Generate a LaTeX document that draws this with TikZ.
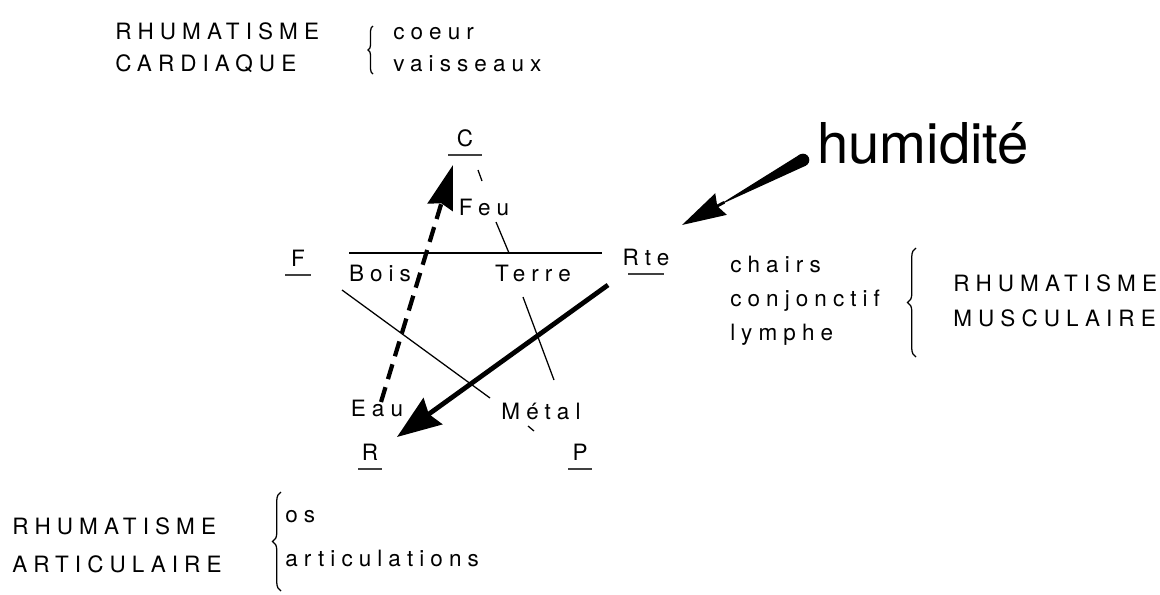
\documentclass[tikz,border=0pt]{standalone}
\usepackage{fontspec}
\setmainfont{TeX Gyre Heros}
\newfontfamily\spaced[LetterSpace=27]{TeX Gyre Heros}
\usetikzlibrary{arrows.meta, calc, decorations.pathreplacing}

\begin{document}
\begin{tikzpicture}[
    x=0.025cm, y=-0.025cm,
    every node/.style={font=\spaced\fontsize{16}{19}\selectfont, inner sep=0pt},
    txt/.style={anchor=base west},
    elem/.style={anchor=base},
    uline/.style={line width=1pt, black!75},
    pline/.style={line width=0.9pt},
    bigarrow/.style={line width=3.4pt, -{Stealth[length=1.1cm, width=0.8cm, inset=0.12cm]}},
    dasharrow/.style={line width=3pt, dash pattern=on 11pt off 6pt, -{Stealth[length=1.1cm, width=0.65cm, inset=0.1cm]}},
    curly/.style={decorate, decoration={brace, amplitude=#1}, line width=0.9pt}
]
    \useasboundingbox (0,0) rectangle (1160,594);

    % RHUMATISME CARDIAQUE
    \node[txt] (rc1) at (115,39) {RHUMATISME};
    \node[txt] (rc2) at (115,71) {CARDIAQUE};
    \node[txt] (coeur) at (393,39) {coeur};
    \node[txt] (vaiss) at (393,71) {vaisseaux};
    \draw[curly=3.5pt] (373,74) -- (373,26);

    % RHUMATISME MUSCULAIRE
    \node[txt] (chairs) at (730,272) {chairs};
    \node[txt] (conj) at (730,306) {conjonctif};
    \node[txt] (lymphe) at (730,340) {lymphe};
    \draw[curly=6pt] (916,357) -- (916,248);
    \node[txt] (rm1) at (953,291) {RHUMATISME};
    \node[txt] (rm2) at (953,326) {MUSCULAIRE};

    % RHUMATISME ARTICULAIRE
    \node[txt] (ra1) at (12,534) {RHUMATISME};
    \node[txt] (ra2) at (12,572) {ARTICULAIRE};
    \draw[curly=6pt] (281,591) -- (281,492);
    \node[txt] (os) at (285,522) {os};
    \node[txt] (artic) at (285,566) {articulations};

    % organes
    \node[elem] (C) at (465,146) {C};
    \node[elem] (F) at (298,266) {F};
    \node[elem] (Rte) at (646,265) {Rte};
    \node[elem] (R) at (370,460) {R};
    \node[elem] (P) at (580,460) {P};
    \foreach \n/\w in {C/17, F/13, Rte/18, R/12, P/12} {
        \draw[uline] ($(\n.base)+(-\w,9)$) -- ($(\n.base)+(\w,9)$);
    }

    % elements
    \node[elem] (bois) at (380,281) {Bois};
    \node[elem] (terre) at (533,281) {Terre};
    \node[elem] (feu) at (484,215) {Feu};
    \node[elem] (eau) at (377,416) {Eau};
    \node[elem] (metal) at (541,419) {Métal};

    % lines
    \coordinate (hl-w) at (349,253);
    \coordinate (hl-e) at (602,253);
    \draw[pline] (hl-w) -- (hl-e);
    \draw[pline] (478,170) -- (482,181);
    \draw[pline] (496,222) -- (509,253);
    \draw[pline] (342,290) -- (490,398);
    \draw[pline] (528,426) -- (534,431);
    \draw[pline] (523,297) -- (554,380);

    % arrows
    \coordinate (rtetail) at (608,285);
    \coordinate (rtip) at (397,437);
    \draw[bigarrow] (rtetail) -- (rtip);
    \coordinate (eautail) at (381,402);
    \coordinate (ctip) at (453,165);
    \draw[dasharrow] (eautail) -- (ctip);

    % humidite
    \node[anchor=base west, font=\normalfont\fontsize{40}{48}\selectfont] (hum) at (817,163) {humidité};
    \coordinate (humtail) at (803,160);
    \coordinate (humtip) at (682,225);
    \fill ($(humtail)!4.5pt!90:(humtip)$) -- ($(humtail)!4.5pt!-90:(humtip)$)
        -- ($(humtip)!1cm!(humtail)$) -- cycle;
    \fill (humtail) circle (4.5pt);
    \draw[line width=2pt, -{Stealth[length=1.1cm, width=0.6cm, inset=0.1cm]}] ($(humtip)!1.2cm!(humtail)$) -- (humtip);
\end{tikzpicture}
\end{document}
